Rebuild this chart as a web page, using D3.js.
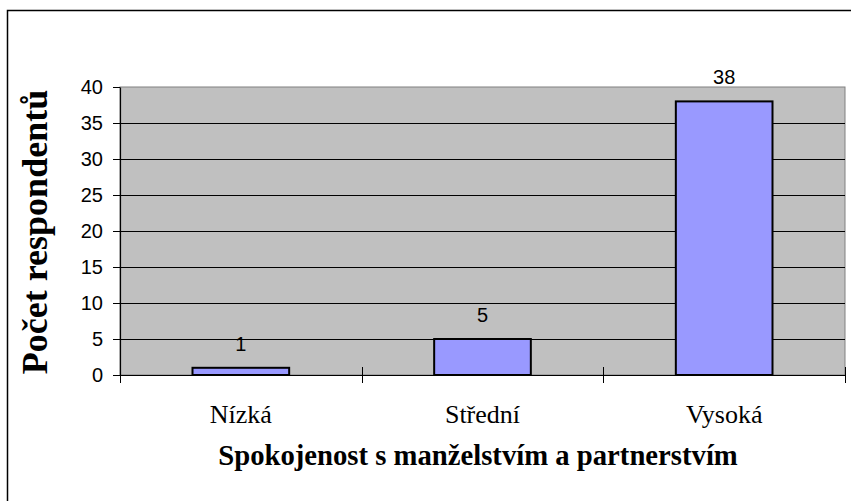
<!DOCTYPE html>
<html>
<head>
<meta charset="utf-8">
<script src="https://cdn.jsdelivr.net/npm/d3@7"></script>
<style>
  body { margin: 0; background: #fff; }
  svg { display: block; }
</style>
</head>
<body>
<div id="chart"></div>
<script>
const categories = ["Nízká", "Střední", "Vysoká"];
const counts = [1, 5, 38];
const yTicks = [0, 5, 10, 15, 20, 25, 30, 35, 40];

const width = 851, height = 501;
const plot = { left: 120, right: 845, top: 87, bottom: 375 };

const svg = d3.select("#chart")
  .append("svg")
  .attr("width", width)
  .attr("height", height);

// outer chart frame (runs off the right/bottom edge like the original)
svg.append("rect")
  .attr("x", 7.5).attr("y", 10.5)
  .attr("width", 900).attr("height", 600)
  .attr("fill", "#fff")
  .attr("stroke", "#000")
  .attr("stroke-width", 1.5);

const xCat = d3.scaleBand()
  .domain(categories)
  .range([plot.left, plot.right])
  .padding(0);

const y = d3.scaleLinear()
  .domain([0, 40])
  .range([plot.bottom, plot.top]);

// plot area
svg.append("rect")
  .attr("x", plot.left).attr("y", plot.top)
  .attr("width", plot.right - plot.left)
  .attr("height", plot.bottom - plot.top)
  .attr("fill", "#c0c0c0")
  .attr("stroke", "#808080")
  .attr("stroke-width", 1);

// gridlines
svg.selectAll(".grid")
  .data(yTicks.filter(t => t > 0 && t < 40))
  .enter().append("line")
  .attr("class", "grid")
  .attr("x1", plot.left).attr("x2", plot.right)
  .attr("y1", d => Math.round(y(d)) + 0.5)
  .attr("y2", d => Math.round(y(d)) + 0.5)
  .attr("stroke", "#000")
  .attr("stroke-width", 1);

// bars
const barW = xCat.bandwidth() * 0.4;
svg.selectAll(".bar")
  .data(counts)
  .enter().append("rect")
  .attr("class", "bar")
  .attr("x", (d, i) => xCat(categories[i]) + (xCat.bandwidth() - barW) / 2)
  .attr("y", d => y(d))
  .attr("width", barW)
  .attr("height", d => y(0) - y(d))
  .attr("fill", "#9999ff")
  .attr("stroke", "#000")
  .attr("stroke-width", 2);

// value labels
svg.selectAll(".val")
  .data(counts)
  .enter().append("text")
  .attr("class", "val")
  .attr("x", (d, i) => xCat(categories[i]) + xCat.bandwidth() / 2)
  .attr("y", d => y(d) - 17)
  .attr("text-anchor", "middle")
  .style("font-family", "'Liberation Sans', Arial, sans-serif")
  .style("font-size", "20px")
  .attr("fill", "#000")
  .text(d => d);

// y axis
const yAxis = svg.append("g")
  .attr("transform", "translate(" + plot.left + ",0)")
  .call(d3.axisLeft(y).tickValues(yTicks).tickSize(7).tickPadding(10).tickSizeOuter(0));
yAxis.select(".domain").attr("stroke", "#000").attr("stroke-width", 1.2);
yAxis.selectAll(".tick line").attr("stroke", "#000");
yAxis.selectAll("text")
  .style("font-family", "'Liberation Sans', Arial, sans-serif")
  .style("font-size", "20px")
  .attr("fill", "#000");

// x axis line and cross ticks at category boundaries
svg.append("line")
  .attr("x1", plot.left).attr("x2", plot.right)
  .attr("y1", plot.bottom + 0.5).attr("y2", plot.bottom + 0.5)
  .attr("stroke", "#000").attr("stroke-width", 1.2);

const boundaries = categories.map(c => xCat(c)).concat([plot.right]);
svg.selectAll(".xtick")
  .data(boundaries)
  .enter().append("line")
  .attr("class", "xtick")
  .attr("x1", d => Math.round(d) + 0.5).attr("x2", d => Math.round(d) + 0.5)
  .attr("y1", plot.bottom - 8).attr("y2", plot.bottom + 8)
  .attr("stroke", "#000");

// category labels
svg.selectAll(".cat")
  .data(categories)
  .enter().append("text")
  .attr("class", "cat")
  .attr("x", d => xCat(d) + xCat.bandwidth() / 2)
  .attr("y", 423)
  .attr("text-anchor", "middle")
  .style("font-family", "'Liberation Serif', 'Times New Roman', serif")
  .style("font-size", "26px")
  .attr("fill", "#000")
  .text(d => d);

// axis titles
svg.append("text")
  .attr("x", 478)
  .attr("y", 465)
  .attr("text-anchor", "middle")
  .style("font-family", "'Liberation Serif', 'Times New Roman', serif")
  .style("font-size", "28.7px")
  .style("font-weight", "bold")
  .text("Spokojenost s manželstvím a partnerstvím");

svg.append("text")
  .attr("transform", "translate(47," + ((plot.top + plot.bottom) / 2 + 1) + ") rotate(-90)")
  .attr("text-anchor", "middle")
  .style("font-family", "'Liberation Serif', 'Times New Roman', serif")
  .style("font-size", "36px")
  .style("font-weight", "bold")
  .text("Počet respondentů");
</script>
</body>
</html>
